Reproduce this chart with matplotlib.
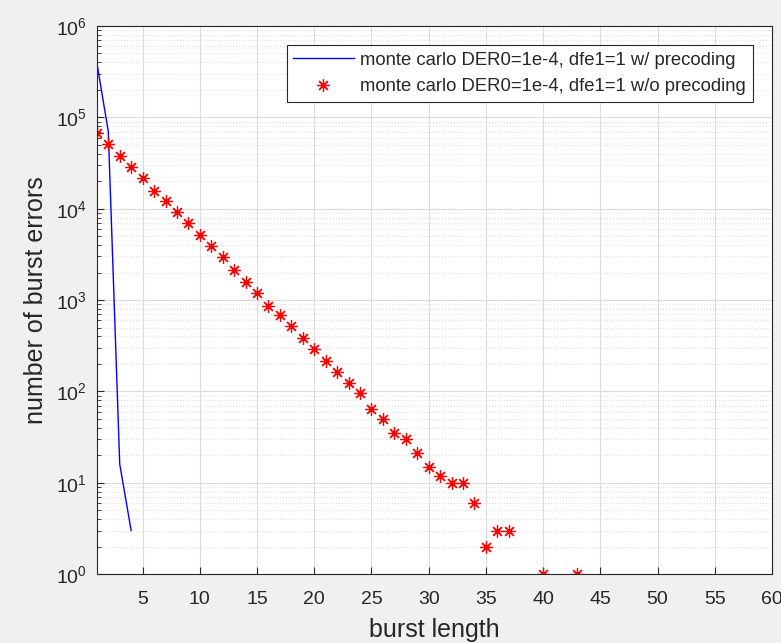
import matplotlib
matplotlib.use("Agg")
import matplotlib.pyplot as plt
from matplotlib.ticker import LogLocator, NullFormatter, FixedLocator

plt.rcParams['font.family'] = ['Liberation Sans', 'DejaVu Sans']

# Data
x_pre = [1, 2, 3, 4]
y_pre = [397000, 70000, 16, 3]

x_nopre = list(range(1, 38)) + [40, 43]
y_nopre = [68000, 50600, 37700, 28600, 21500, 15800, 12300, 9180, 7030, 5100,
           3890, 2950, 2130, 1590, 1200, 870, 695, 518, 386, 295,
           214, 162, 124, 95, 65, 50, 35, 30, 21, 15,
           12, 10, 10, 6, 2, 3, 3, 1, 1]

xticks = [5, 10, 15, 20, 25, 30, 35, 40, 45, 50, 55, 60]
label_pre = 'monte carlo DER0=1e-4, dfe1=1 w/ precoding'
label_nopre = 'monte carlo DER0=1e-4, dfe1=1 w/o precoding'

fig = plt.figure(figsize=(7.81, 6.43), dpi=100, facecolor='#f0f0f0')
ax = fig.add_axes([0.124, 0.107, 0.8645, 0.8526])
ax.set_facecolor('white')

ax.plot(x_pre, y_pre, color='#0000ff', lw=1.0, label=label_pre)
ax.plot(x_nopre, y_nopre, ls='none', marker=(8, 2, 0), ms=9, mew=0.9,
        color='#ff0000', label=label_nopre)

ax.set_yscale('log')
ax.set_xlim(1, 60)
ax.set_ylim(1, 1e6)
ax.xaxis.set_major_locator(FixedLocator(xticks))
ax.yaxis.set_major_locator(LogLocator(base=10, numticks=10))
ax.yaxis.set_minor_locator(LogLocator(base=10, subs=range(2, 10), numticks=100))
ax.yaxis.set_minor_formatter(NullFormatter())

ax.grid(True, which='major', color='#dcdcdc', lw=0.8, ls='-')
ax.grid(True, which='minor', axis='y', color='#e0e0e0', lw=0.8, ls=':')
ax.set_axisbelow(True)

ax.tick_params(which='both', direction='in', colors='#262626', labelsize=14,
               top=False, right=False)
ax.tick_params(which='major', length=5)
ax.tick_params(which='minor', length=3)
ax.tick_params(axis='x', pad=12)
ax.tick_params(axis='y', pad=7)
for s in ax.spines.values():
    s.set_color('#262626')
    s.set_linewidth(0.8)

ax.set_xlabel('burst length', fontsize=18, color='#262626', labelpad=7.5)
ax.set_ylabel('number of burst errors', fontsize=18, color='#262626', labelpad=6)

leg = ax.legend(loc='upper right', fontsize=13.3, fancybox=False, framealpha=1,
                edgecolor='#262626', borderaxespad=1.05, handlelength=3.3,
                handletextpad=0.35, borderpad=0.35, labelspacing=0.5)
leg.get_frame().set_linewidth(0.8)
for t in leg.get_texts():
    t.set_color('#262626')

fig.savefig('out.png', dpi=100, facecolor=fig.get_facecolor())
